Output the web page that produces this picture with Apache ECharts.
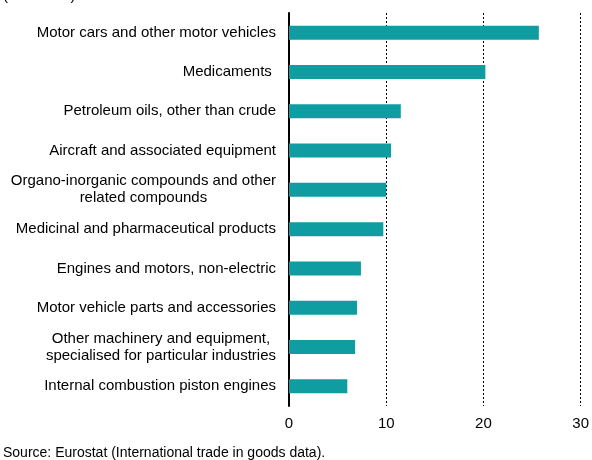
<!DOCTYPE html>
<html>
<head>
<meta charset="utf-8">
<script src="https://cdn.jsdelivr.net/npm/echarts@6/dist/echarts.min.js"></script>
<style>
html,body{margin:0;padding:0;background:#fff;}
#c{width:592px;height:460px;}
</style>
</head>
<body>
<div id="c"></div>
<script>
const categories = [
  "Motor cars and other motor vehicles",
  "Medicaments ",
  "Petroleum oils, other than crude",
  "Aircraft and associated equipment",
  "Organo-inorganic compounds and other\nrelated compounds",
  "Medicinal and pharmaceutical products",
  "Engines and motors, non-electric",
  "Motor vehicle parts and accessories",
  "Other machinery and equipment,\nspecialised for particular industries",
  "Internal combustion piston engines"
];
const values = [25.7, 20.2, 11.5, 10.5, 10.0, 9.7, 7.4, 7.0, 6.8, 6.0];
const xTicks = [0, 10, 20, 30];
const unitText = "(% of total)";
const sourceText = "Source: Eurostat (International trade in goods data).";

const chart = echarts.init(document.getElementById('c'), null, {renderer: 'canvas'});
const FONT = '"Liberation Sans", Arial, sans-serif';
chart.setOption({
  animation: false,
  grid: {left: 289, right: 9, top: 13, bottom: 54, containLabel: false},
  xAxis: {
    type: 'value', min: 0, max: 30, interval: 10,
    axisLine: {show: false},
    axisTick: {show: false},
    axisLabel: {color: '#000', fontFamily: FONT, fontSize: 15, margin: 10,
      formatter: v => xTicks.includes(v) ? String(v) : ''},
    splitLine: {show: true, lineStyle: {color: '#000', type: [2, 2], width: 1}}
  },
  yAxis: {
    type: 'category', data: categories, inverse: true,
    axisLine: {show: true, lineStyle: {color: '#000', width: 2}},
    axisTick: {show: false},
    axisLabel: {
      color: '#000', fontFamily: FONT, fontSize: 15, margin: 13, lineHeight: 17,
      formatter: v => v.split('\n').map(s => '{c|' + s + '}').join('\n'),
      rich: {c: {align: 'center', fontFamily: FONT, fontSize: 15, lineHeight: 17, color: '#000'}}
    }
  },
  series: [{
    type: 'bar', data: values, barWidth: 14,
    itemStyle: {color: '#109da1'}
  }],
  graphic: [
    {type: 'text', left: 3, top: -12, style: {text: unitText, font: '15px ' + FONT, fill: '#000'}},
    {type: 'text', left: 3, top: 446, style: {text: sourceText, font: '14px ' + FONT, fill: '#000'}}
  ]
});
</script>
</body>
</html>
